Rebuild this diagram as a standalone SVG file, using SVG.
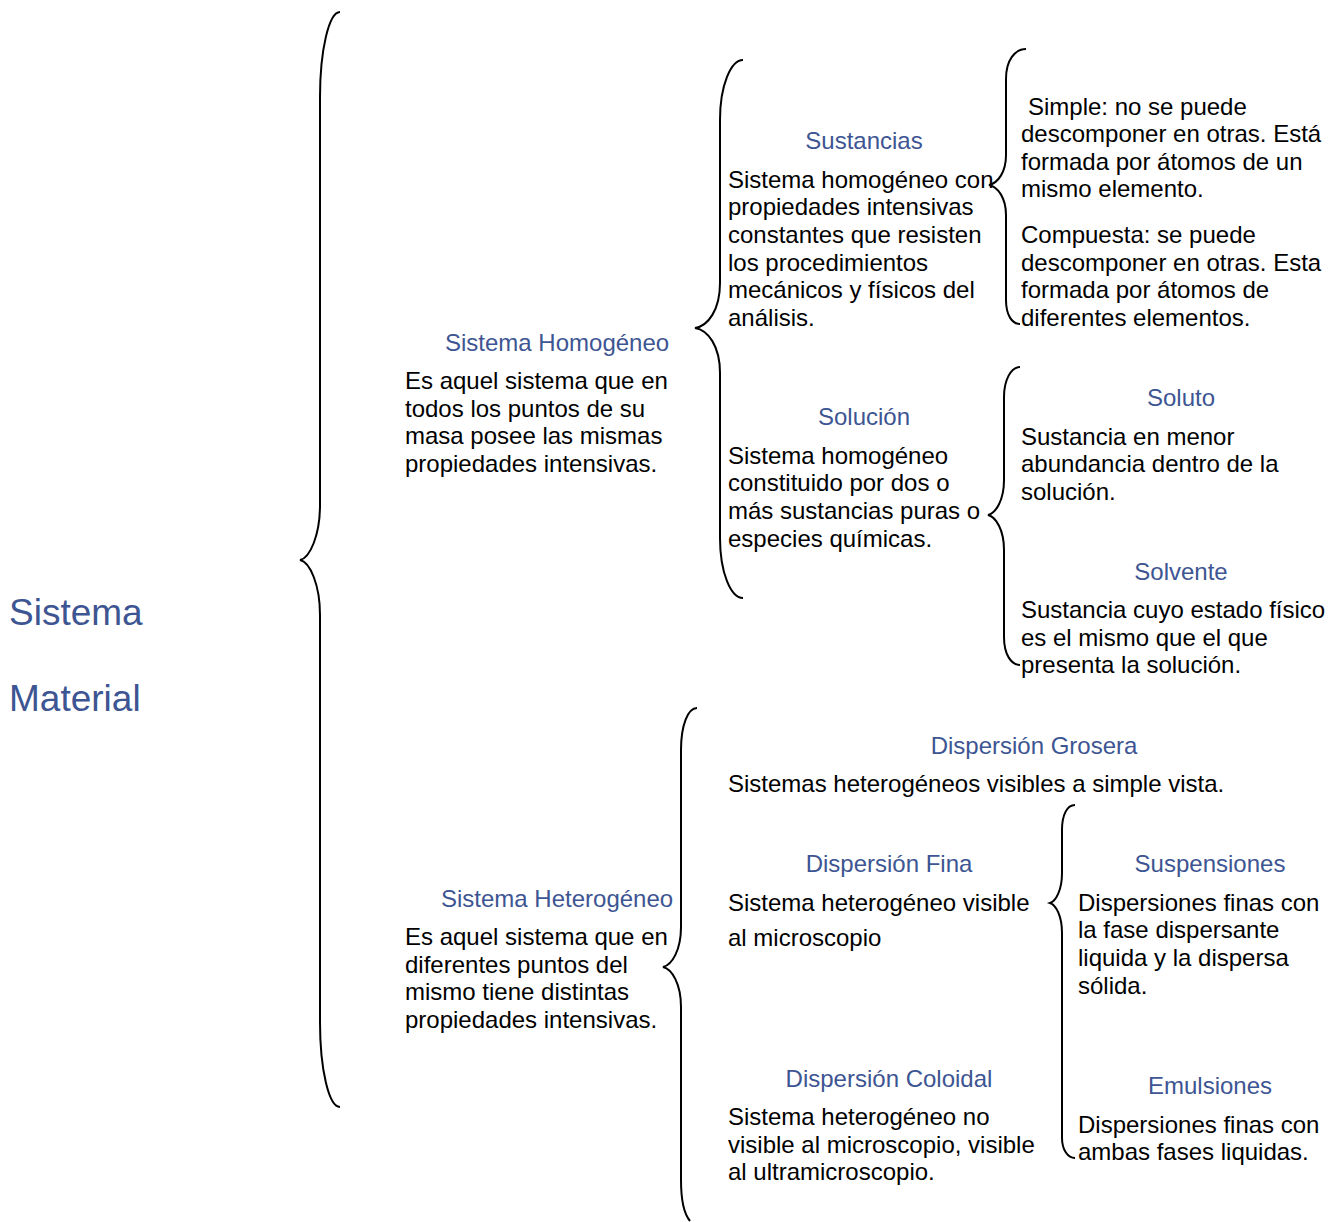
<svg xmlns="http://www.w3.org/2000/svg" width="1328" height="1222" viewBox="0 0 1328 1222">
<style>
text{font-family:"Liberation Sans",Arial,sans-serif;font-size:24px;fill:#000}
.h{fill:#3d5592}
.m{text-anchor:middle}
.big{font-size:37px;fill:#3d5592}
.brace{fill:none;stroke:#000;stroke-width:2}
</style>
<rect width="1328" height="1222" fill="#fff"/>
<g id="connectors">
<path class="brace" d="M 340 12 C 329 12 320 50 320 97 L 320 505 C 320 535 310 558 300 560 C 310 562 320 585 320 615 L 320 1022 C 320 1070 329 1107 340 1107"/>
<path class="brace" d="M 743 60 C 731 60 720 85 720 120 L 720 283 C 720 310 708 326 695 328 C 708 330 720 346 720 373 L 720 538 C 720 573 731 598 743 598"/>
<path class="brace" d="M 1026 49 C 1015 49 1006 60 1006 79 L 1006 155 C 1006 172 998 183 989 185 C 998 187 1006 198 1006 215 L 1006 300 C 1006 315 1012 324 1020 324"/>
<path class="brace" d="M 1020 367 C 1011 367 1004 380 1004 397 L 1004 480 C 1004 500 996 513 988 515 C 996 517 1004 530 1004 550 L 1004 637 C 1004 654 1011 665 1020 665"/>
<path class="brace" d="M 697 708 C 688 708 681 725 681 750 L 681 927 C 681 950 672 965 663 967 C 672 969 681 984 681 1007 L 681 1180 C 681 1202 685 1215 690 1221"/>
<path class="brace" d="M 1075 805 C 1067 805 1062 815 1062 830 L 1062 873 C 1062 890 1056 901 1050 903 C 1056 905 1062 916 1062 933 L 1062 1138 C 1062 1150 1068 1158 1075 1158"/>
</g>
<g id="sistema-material">
<text class="big" x="9" y="625">Sistema</text>
<text class="big" x="9" y="711">Material</text>
</g>
<g id="sistema-homogeneo">
<text class="h" x="445" y="351">Sistema Homogéneo</text>
<text x="405" y="389">Es aquel sistema que en</text>
<text x="405" y="417">todos los puntos de su</text>
<text x="405" y="444">masa posee las mismas</text>
<text x="405" y="472">propiedades intensivas.</text>
</g>
<g id="sustancias">
<text class="h m" x="864" y="149">Sustancias</text>
<text x="728" y="188">Sistema homogéneo con</text>
<text x="728" y="215">propiedades intensivas</text>
<text x="728" y="243">constantes que resisten</text>
<text x="728" y="271">los procedimientos</text>
<text x="728" y="298">mecánicos y físicos del</text>
<text x="728" y="326">análisis.</text>
</g>
<g id="simple">
<text x="1028" y="115">Simple: no se puede</text>
<text x="1021" y="142">descomponer en otras. Está</text>
<text x="1021" y="170">formada por átomos de un</text>
<text x="1021" y="197">mismo elemento.</text>
</g>
<g id="compuesta">
<text x="1021" y="243">Compuesta: se puede</text>
<text x="1021" y="271">descomponer en otras. Esta</text>
<text x="1021" y="298">formada por átomos de</text>
<text x="1021" y="326">diferentes elementos.</text>
</g>
<g id="solucion">
<text class="h m" x="864" y="425">Solución</text>
<text x="728" y="464">Sistema homogéneo</text>
<text x="728" y="491">constituido por dos o</text>
<text x="728" y="519">más sustancias puras o</text>
<text x="728" y="547">especies químicas.</text>
</g>
<g id="soluto">
<text class="h m" x="1181" y="406">Soluto</text>
<text x="1021" y="445">Sustancia en menor</text>
<text x="1021" y="472">abundancia dentro de la</text>
<text x="1021" y="500">solución.</text>
</g>
<g id="solvente">
<text class="h m" x="1181" y="580">Solvente</text>
<text x="1021" y="618">Sustancia cuyo estado físico</text>
<text x="1021" y="646">es el mismo que el que</text>
<text x="1021" y="673">presenta la solución.</text>
</g>
<g id="sistema-heterogeneo">
<text class="h" x="441" y="907">Sistema Heterogéneo</text>
<text x="405" y="945">Es aquel sistema que en</text>
<text x="405" y="973">diferentes puntos del</text>
<text x="405" y="1000">mismo tiene distintas</text>
<text x="405" y="1028">propiedades intensivas.</text>
</g>
<g id="dispersion-grosera">
<text class="h m" x="1034" y="754">Dispersión Grosera</text>
<text x="728" y="792">Sistemas heterogéneos visibles a simple vista.</text>
</g>
<g id="dispersion-fina">
<text class="h m" x="889" y="872">Dispersión Fina</text>
<text x="728" y="911">Sistema heterogéneo visible</text>
<text x="728" y="946">al microscopio</text>
</g>
<g id="suspensiones">
<text class="h m" x="1210" y="872">Suspensiones</text>
<text x="1078" y="911">Dispersiones finas con</text>
<text x="1078" y="938">la fase dispersante</text>
<text x="1078" y="966">liquida y la dispersa</text>
<text x="1078" y="994">sólida.</text>
</g>
<g id="dispersion-coloidal">
<text class="h m" x="889" y="1087">Dispersión Coloidal</text>
<text x="728" y="1125">Sistema heterogéneo no</text>
<text x="728" y="1153">visible al microscopio, visible</text>
<text x="728" y="1180">al ultramicroscopio.</text>
</g>
<g id="emulsiones">
<text class="h m" x="1210" y="1094">Emulsiones</text>
<text x="1078" y="1133">Dispersiones finas con</text>
<text x="1078" y="1160">ambas fases liquidas.</text>
</g>
</svg>
